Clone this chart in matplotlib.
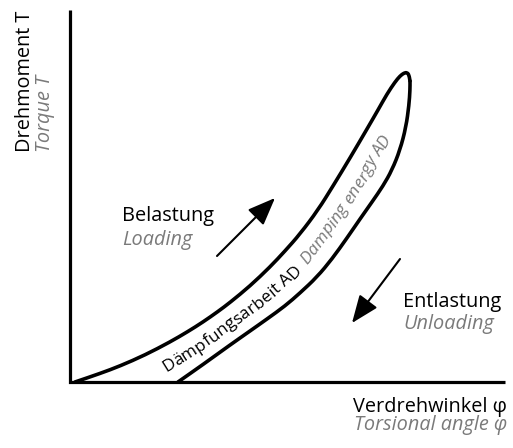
import numpy as np
import matplotlib
matplotlib.use("Agg")
import matplotlib.pyplot as plt
from matplotlib.font_manager import FontProperties
from matplotlib.path import Path
from matplotlib.patches import PathPatch

plt.rcParams['font.family'] = ['Open Sans', 'DejaVu Sans']

# ---- data (pixel-like coordinates, y downwards) ----
loading_x = [75, 100, 120, 145, 170, 188, 203, 218, 230, 250, 270, 285, 300, 318, 333, 350, 367, 378, 387, 395, 400, 404, 407, 409, 410]
loading_y = [382, 373.5, 366, 355, 342, 331.5, 322, 311.5, 302.5, 286, 267, 251, 234, 210, 186, 158, 129, 110, 94, 82, 76, 73, 72.5, 75, 81]
unloading_x = [410, 410, 409, 406, 400, 392, 383, 372, 360, 347, 332, 317, 300, 285, 267, 250, 230, 203, 178]
unloading_y = [81, 90, 105, 127, 150, 170, 186, 202, 219, 238, 259, 277, 293, 306, 319, 331, 345, 364.5, 382]

axis_origin = (70, 382)
axis_top = 10
axis_right = 505

# text path (centre line of the band between the curves)
band_x = [163, 200, 230, 260, 290, 302, 320, 340, 360, 378, 388]
band_y = [367, 344, 322, 300, 275, 262, 238, 211, 180, 150, 132]

label_de_band = "Dämpfungsarbeit AD"
label_en_band = "Damping energy AD"

x_label_de = "Verdrehwinkel φ"
x_label_en = "Torsional angle φ"
y_label_de = "Drehmoment T"
y_label_en = "Torque T"
load_de, load_en = "Belastung", "Loading"
unload_de, unload_en = "Entlastung", "Unloading"

load_arrow = [(217, 256), (275, 198)]
unload_arrow = [(400, 259), (352, 323)]

GRAY = '#7a7a7a'
FS = 14.3

fig = plt.figure(figsize=(5.13, 4.48), dpi=100)
ax = fig.add_axes([0, 0, 1, 1])
ax.set_xlim(0, 513)
ax.set_ylim(448, 0)
ax.axis('off')

# axes lines
ax.plot([axis_origin[0], axis_origin[0], axis_right],
        [axis_top, axis_origin[1], axis_origin[1]],
        color='black', lw=2.3, solid_joinstyle='miter', solid_capstyle='butt')


def smooth_path(xs, ys):
    """Quadratic B-spline style path: points are control points, curve passes through midpoints."""
    pts = np.column_stack([xs, ys]).astype(float)
    verts = [pts[0]]
    codes = [Path.MOVETO]
    mids = (pts[:-1] + pts[1:]) / 2
    verts.append(mids[0]); codes.append(Path.LINETO)
    for i in range(1, len(pts) - 1):
        verts.append(pts[i]); codes.append(Path.CURVE3)
        verts.append(mids[i]); codes.append(Path.CURVE3)
    verts.append(pts[-1]); codes.append(Path.LINETO)
    return Path(verts, codes)


for xs, ys in [(loading_x, loading_y), (unloading_x, unloading_y)]:
    ax.add_patch(PathPatch(smooth_path(xs, ys), fill=False, edgecolor='black',
                           lw=2.6, joinstyle='round', capstyle='round'))

# arrows
for (a, b) in [load_arrow, unload_arrow]:
    ax.annotate('', xy=b, xytext=a,
                arrowprops=dict(arrowstyle='-|>,head_length=1.0,head_width=0.4',
                                mutation_scale=17, lw=1.5, color='black',
                                shrinkA=0, shrinkB=0))

# labels
ax.text(axis_right + 2, 412, x_label_de, fontsize=FS, ha='right', va='baseline', color='black')
ax.text(axis_right + 2, 430, x_label_en, fontsize=FS, ha='right', va='baseline', color=GRAY, style='italic')

ax.text(30, 152, y_label_de, fontsize=FS, rotation=90, rotation_mode='anchor',
        ha='left', va='baseline', color='black')
ax.text(50, 152, y_label_en, fontsize=FS, rotation=90, rotation_mode='anchor',
        ha='left', va='baseline', color=GRAY, style='italic')

ax.text(122, 221, load_de, fontsize=FS, ha='left', va='baseline', color='black')
ax.text(122, 245, load_en, fontsize=FS, ha='left', va='baseline', color=GRAY, style='italic')
ax.text(403, 307, unload_de, fontsize=FS, ha='left', va='baseline', color='black')
ax.text(403, 329, unload_en, fontsize=FS, ha='left', va='baseline', color=GRAY, style='italic')

# text along the band
renderer = fig.canvas.get_renderer()
bx = np.array(band_x, float)
by = np.array(band_y, float)
seg = np.hypot(np.diff(bx), np.diff(by))
cum = np.concatenate([[0], np.cumsum(seg)])


def point_at(s):
    s = np.clip(s, 0, cum[-1] - 1e-6)
    i = np.searchsorted(cum, s, side='right') - 1
    i = min(i, len(seg) - 1)
    t = (s - cum[i]) / seg[i]
    x = bx[i] + t * (bx[i + 1] - bx[i])
    y = by[i] + t * (by[i + 1] - by[i])
    d0 = np.array([bx[i + 1] - bx[i], by[i + 1] - by[i]]) / seg[i]
    if t > 0.5 and i + 1 < len(seg):
        d1 = np.array([bx[i + 2] - bx[i + 1], by[i + 2] - by[i + 1]]) / seg[i + 1]
        w = t - 0.5
    elif t <= 0.5 and i > 0:
        d1 = np.array([bx[i] - bx[i - 1], by[i] - by[i - 1]]) / seg[i - 1]
        w = 0.5 - t
    else:
        d1 = d0
        w = 0
    d = (1 - w) * d0 + w * d1
    d /= np.hypot(*d)
    return x, y, d


def text_on_path(s, start, fs, color, style):
    fp = FontProperties(family=['Open Sans', 'DejaVu Sans'], size=fs, style=style)
    off = 0.36 * fs * 100 / 72
    for k, ch in enumerate(s):
        w_prev = renderer.get_text_width_height_descent(s[:k], fp, ismath=False)[0] if k else 0
        w_ch = renderer.get_text_width_height_descent(ch, fp, ismath=False)[0]
        x, y, d = point_at(start + w_prev + w_ch / 2)
        x0 = x - d[0] * w_ch / 2
        y0 = y - d[1] * w_ch / 2
        nx, ny = -d[1], d[0]
        x0 += nx * off
        y0 += ny * off
        ang = np.degrees(np.arctan2(-d[1], d[0]))
        ax.text(x0, y0, ch, fontproperties=fp, color=color, rotation=ang,
                rotation_mode='anchor', ha='left', va='baseline')
    return renderer.get_text_width_height_descent(s, fp, ismath=False)[0]


w1 = text_on_path(label_de_band, 0, 12.4, 'black', 'normal')
text_on_path(label_en_band, w1 + 7, 12.4, GRAY, 'italic')

fig.savefig('out.png', dpi=100)
